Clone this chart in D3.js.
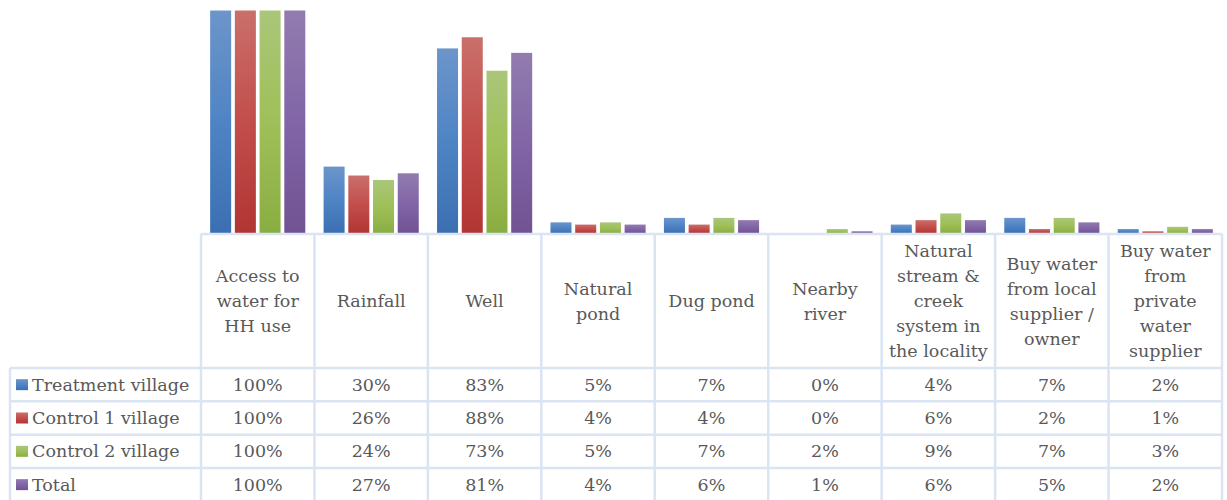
<!DOCTYPE html>
<html><head><meta charset="utf-8">
<script src="https://cdn.jsdelivr.net/npm/d3@7"></script>
<style>
html,body{margin:0;padding:0;background:#fff;}
svg{display:block;}
text{font-family:"DejaVu Serif",serif;fill:#595959;}
</style></head>
<body>
<svg id="chart" width="1227" height="500"></svg>
<script>
const categories = [
  ["Access to","water for","HH use"],
  ["Rainfall"],
  ["Well"],
  ["Natural","pond"],
  ["Dug pond"],
  ["Nearby","river"],
  ["Natural","stream &","creek","system in","the locality"],
  ["Buy water","from local","supplier /","owner"],
  ["Buy water","from","private","water","supplier"]
];
const seriesNames = ["Treatment village","Control 1 village","Control 2 village","Total"];
const treatment = [100, 30, 83, 5, 7, 0, 4, 7, 2];
const control1  = [100, 26, 88, 4, 4, 0, 6, 2, 1];
const control2  = [100, 24, 73, 5, 7, 2, 9, 7, 3];
const total     = [100, 27, 81, 4, 6, 1, 6, 5, 2];
const tableLabels = [
  ["100%","30%","83%","5%","7%","0%","4%","7%","2%"],
  ["100%","26%","88%","4%","4%","0%","6%","2%","1%"],
  ["100%","24%","73%","5%","7%","2%","9%","7%","3%"],
  ["100%","27%","81%","4%","6%","1%","6%","5%","2%"]
];
const seriesValues = [treatment, control1, control2, total];
const gradStops = [
  ["#6c95ca","#4f84c4","#3b6fb1"],
  ["#ca6f6b","#c24e4b","#b13533"],
  ["#aac679","#9fc058","#8aad42"],
  ["#927caf","#8165a6","#715293"]
];

const svg = d3.select("#chart");
const defs = svg.append("defs");
gradStops.forEach((s,i)=>{
  const g = defs.append("linearGradient").attr("id","g"+i).attr("x1",0).attr("y1",0).attr("x2",0).attr("y2",1);
  g.append("stop").attr("offset","0%").attr("stop-color",s[0]);
  g.append("stop").attr("offset","50%").attr("stop-color",s[1]);
  g.append("stop").attr("offset","100%").attr("stop-color",s[2]);
});

const plotL = 201, plotR = 1222;
const base = 233.5, top100 = 10.5;
const x = d3.scaleBand().domain(d3.range(categories.length)).range([plotL, plotR]).padding(0);
const xs = d3.scaleBand().domain(d3.range(4)).range([0, x.bandwidth()]).paddingInner(0.15).paddingOuter(0.37);
const y = d3.scaleLinear().domain([0,100]).range([base, top100]);

// bars
seriesValues.forEach((vals,si)=>{
  svg.append("g").selectAll("rect").data(vals).join("rect")
    .attr("x",(d,i)=>x(i)+xs(si))
    .attr("width",xs.bandwidth())
    .attr("y",d=>y(d))
    .attr("height",d=>base-y(d))
    .attr("fill","url(#g"+si+")");
});

// table
const lineC = "#dae4f2";
const hdrTop = 234, hdrBot = 368;
const rowH = (501.3-368)/4;
const tblL = 10;
const tg = svg.append("g");
// horizontal lines
tg.append("line").attr("x1",plotL).attr("x2",plotR).attr("y1",hdrTop).attr("y2",hdrTop).attr("stroke",lineC).attr("stroke-width",2.5);
for(let r=0;r<=4;r++){
  const yy = hdrBot + r*rowH;
  tg.append("line").attr("x1",tblL).attr("x2",plotR).attr("y1",yy).attr("y2",yy).attr("stroke",lineC).attr("stroke-width",2.5);
}
// vertical lines
for(let c=0;c<=categories.length;c++){
  const xx = plotL + c*x.bandwidth();
  tg.append("line").attr("x1",xx).attr("x2",xx).attr("y1",hdrTop).attr("y2",502).attr("stroke",lineC).attr("stroke-width",2.5);
}
tg.append("line").attr("x1",tblL).attr("x2",tblL).attr("y1",hdrBot).attr("y2",502).attr("stroke",lineC).attr("stroke-width",2.5);

const fs = 17.5, lh = 25;
// header text
categories.forEach((lines,i)=>{
  const cx = x(i)+x.bandwidth()/2;
  const cy = (hdrTop+hdrBot)/2;
  const t = tg.append("text").attr("text-anchor","middle").attr("font-size",fs);
  lines.forEach((ln,k)=>{
    t.append("tspan").attr("x",cx).attr("y",cy + (k-(lines.length-1)/2)*lh + 6).text(ln);
  });
});
// rows
seriesNames.forEach((nm,si)=>{
  const cy = hdrBot + si*rowH + rowH/2;
  tg.append("rect").attr("x",16).attr("y",cy-5.5).attr("width",12).attr("height",11).attr("fill","url(#g"+si+")");
  tg.append("text").attr("x",32).attr("y",cy+6).attr("font-size",fs).text(nm);
  tableLabels[si].forEach((lab,i)=>{
    tg.append("text").attr("x",x(i)+x.bandwidth()/2).attr("y",cy+6).attr("text-anchor","middle").attr("font-size",fs).text(lab);
  });
});
</script>
</body></html>
